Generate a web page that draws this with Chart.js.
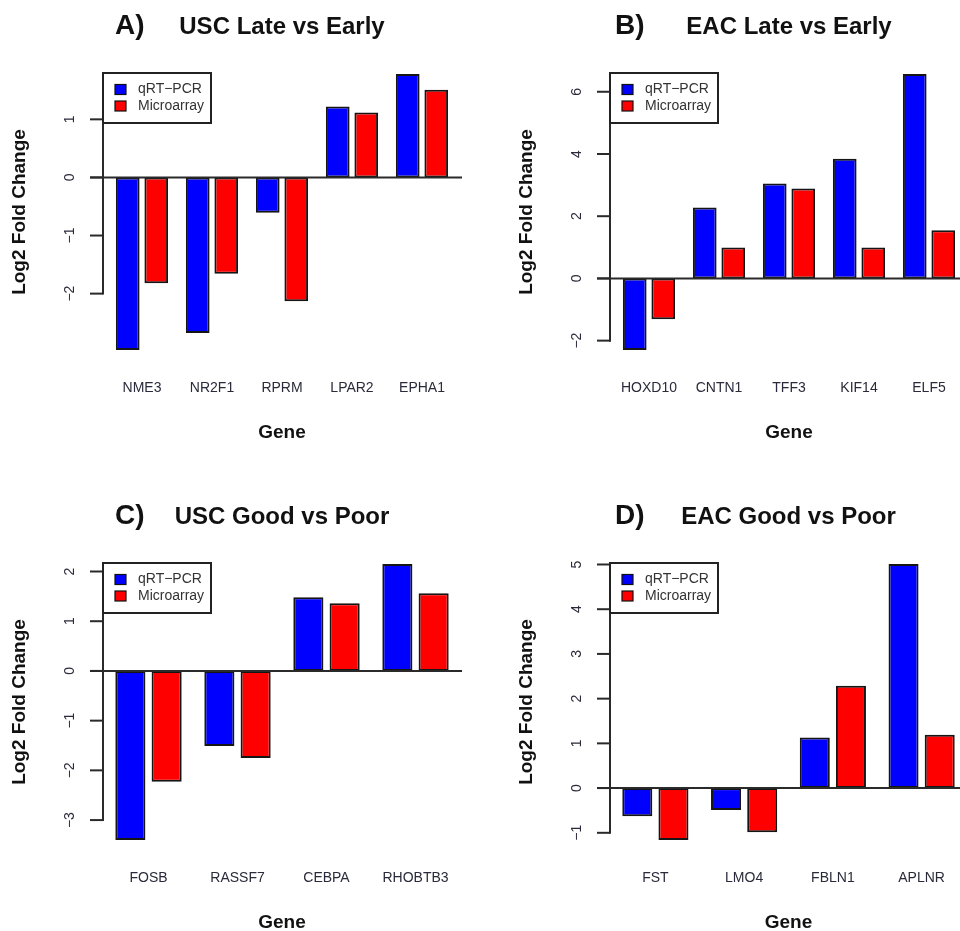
<!DOCTYPE html>
<html><head><meta charset="utf-8">
<script src="https://cdn.jsdelivr.net/npm/chart.js@4.4.0/dist/chart.umd.min.js"></script>
<style>
html,body{margin:0;padding:0;background:#fff;width:960px;height:931px;overflow:hidden;position:relative;}
.panel{position:absolute;}
canvas{display:block;}
</style></head><body>
<div class="panel" style="left:0;top:0"><canvas id="cA" width="480" height="465"></canvas></div>
<div class="panel" style="left:480px;top:0"><canvas id="cB" width="500" height="465"></canvas></div>
<div class="panel" style="left:0;top:490px"><canvas id="cC" width="480" height="465"></canvas></div>
<div class="panel" style="left:480px;top:490px"><canvas id="cD" width="500" height="465"></canvas></div>
<script>
// ---------- data ----------
const seriesNames = ['qRT\u2212PCR', 'Microarray'];
const yAxisTitle = 'Log2 Fold Change';
const xAxisTitle = 'Gene';

const tagA = 'A)', titleA = 'USC Late vs Early';
const genesA = ['NME3', 'NR2F1', 'RPRM', 'LPAR2', 'EPHA1'];
const qpcrA  = [-2.97, -2.68, -0.61, 1.22, 1.78];
const microA = [-1.82, -1.66, -2.13, 1.12, 1.51];
const ticksA = [-2, -1, 0, 1];

const tagB = 'B)', titleB = 'EAC Late vs Early';
const genesB = ['HOXD10', 'CNTN1', 'TFF3', 'KIF14', 'ELF5'];
const qpcrB  = [-2.30, 2.28, 3.05, 3.85, 6.57];
const microB = [-1.31, 0.99, 2.89, 0.99, 1.55];
const ticksB = [-2, 0, 2, 4, 6];

const tagC = 'C)', titleC = 'USC Good vs Poor';
const genesC = ['FOSB', 'RASSF7', 'CEBPA', 'RHOBTB3'];
const qpcrC  = [-3.40, -1.51, 1.48, 2.15];
const microC = [-2.23, -1.75, 1.36, 1.56];
const ticksC = [-3, -2, -1, 0, 1, 2];

const tagD = 'D)', titleD = 'EAC Good vs Poor';
const genesD = ['FST', 'LMO4', 'FBLN1', 'APLNR'];
const qpcrD  = [-0.63, -0.49, 1.13, 5.01];
const microD = [-1.16, -0.99, 2.29, 1.19];
const ticksD = [-1, 0, 1, 2, 3, 4, 5];

// ---------- style / layout ----------
const FONT = "'Liberation Sans', Arial, Helvetica, sans-serif";
Chart.defaults.font.family = FONT;
const BLUE = '#0000FF', RED = '#FF0000', INK = '#222222';

function fmt(v){ return v < 0 ? '\u2212' + Math.abs(v) : String(v); }

const rPlugin = {
  id: 'rStyle',
  afterDatasetsDraw(chart, args, o) {
    const ctx = chart.ctx, ys = chart.scales.y, ca = chart.chartArea;
    const ax = o.axisX;
    ctx.save();
    // zero reference line
    const y0 = ys.getPixelForValue(0);
    ctx.strokeStyle = '#2a2a2a'; ctx.lineWidth = 2;
    ctx.beginPath(); ctx.moveTo(ax - 13, y0); ctx.lineTo(ax + 359, y0); ctx.stroke();
    // y axis line + ticks
    const tk = o.ticks;
    const yTop = ys.getPixelForValue(Math.max(...tk)), yBot = ys.getPixelForValue(Math.min(...tk));
    ctx.beginPath(); ctx.moveTo(ax, yTop - 1); ctx.lineTo(ax, yBot + 1); ctx.stroke();
    ctx.fillStyle = '#2a2a3a'; ctx.font = '14px ' + FONT; ctx.textAlign = 'center'; ctx.textBaseline = 'middle';
    tk.forEach(v => {
      const py = ys.getPixelForValue(v);
      ctx.beginPath(); ctx.moveTo(ax - 13, py); ctx.lineTo(ax, py); ctx.stroke();
      ctx.save(); ctx.translate(ax - 33, py); ctx.rotate(-Math.PI / 2);
      ctx.fillText(fmt(v), 0, 0); ctx.restore();
    });
    // y title
    ctx.save(); ctx.translate(ax - 83, (ca.top + ca.bottom) / 2); ctx.rotate(-Math.PI / 2);
    ctx.font = 'bold 19px ' + FONT; ctx.fillStyle = '#111'; ctx.fillText(yAxisTitle, 0, 0); ctx.restore();
    // main title
    ctx.textBaseline = 'alphabetic';
    ctx.fillStyle = '#111';
    ctx.font = 'bold 24px ' + FONT; ctx.textAlign = 'center';
    ctx.fillText(o.title, (ca.left + ca.right) / 2, 34);
    ctx.font = 'bold 28px ' + FONT; ctx.textAlign = 'left';
    ctx.fillText(o.tag, o.tagX, 34);
    // legend
    const bx = ax, by = ca.top + 10, bw = 108, bh = 50;
    ctx.fillStyle = '#fff'; ctx.fillRect(bx, by, bw, bh);
    ctx.strokeStyle = '#222'; ctx.lineWidth = 2; ctx.strokeRect(bx, by, bw, bh);
    ctx.font = '14px ' + FONT; ctx.textBaseline = 'middle'; ctx.textAlign = 'left';
    chart.data.datasets.forEach((ds, i) => {
      const cy = by + 16.5 + i * 16.5;
      ctx.fillStyle = ds.backgroundColor; ctx.fillRect(bx + 12, cy - 5, 11, 10);
      ctx.lineWidth = 1.2; ctx.strokeStyle = '#111'; ctx.strokeRect(bx + 12, cy - 5, 11, 10);
      ctx.fillStyle = '#333'; ctx.fillText(ds.label, bx + 35, cy);
    });
    ctx.restore();
  }
};

function makeChart(id, tag, title, genes, q, m, ticks, lay) {
  const all = q.concat(m, [0]);
  const lo = Math.min(...all), hi = Math.max(...all), ext = (hi - lo) * 0.04;
  const dsStyle = { borderColor: '#151515', borderWidth: 2, borderSkipped: false,
                    barPercentage: 0.83, categoryPercentage: 0.815 };
  new Chart(document.getElementById(id), {
    type: 'bar',
    data: {
      labels: genes,
      datasets: [
        Object.assign({ label: seriesNames[0], data: q, backgroundColor: BLUE }, dsStyle),
        Object.assign({ label: seriesNames[1], data: m, backgroundColor: RED }, dsStyle)
      ]
    },
    options: {
      responsive: false, animation: false, devicePixelRatio: 1,
      layout: { padding: { left: lay.left, right: lay.right, top: 63, bottom: 0 } },
      plugins: { legend: { display: false }, tooltip: { enabled: false }, title: { display: false },
                 rStyle: { axisX: lay.axisX, tagX: lay.tagX, ticks: ticks, title: title, tag: tag } },
      scales: {
        x: {
          type: 'category', offset: true,
          grid: { display: false, drawTicks: false }, border: { display: false },
          ticks: { color: '#2a2a3a', font: { size: 14 }, padding: 19, maxRotation: 0, autoSkip: false },
          title: { display: true, text: xAxisTitle, color: '#111', font: { size: 19, weight: 'bold' },
                   padding: { top: 0, bottom: 21 } },
          afterFit: s => { s.height = 104; }
        },
        y: { display: false, min: lo - ext, max: hi + ext }
      }
    },
    plugins: [rPlugin]
  });
}

makeChart('cA', tagA, titleA, genesA, qpcrA, microA, ticksA, { left: 107, right: 23, axisX: 103, tagX: 115 });
makeChart('cB', tagB, titleB, genesB, qpcrB, microB, ticksB, { left: 134, right: 16, axisX: 130, tagX: 135 });
makeChart('cC', tagC, titleC, genesC, qpcrC, microC, ticksC, { left: 104, right: 20, axisX: 103, tagX: 115 });
makeChart('cD', tagD, titleD, genesD, qpcrD, microD, ticksD, { left: 131, right: 14, axisX: 130, tagX: 135 });
</script>
</body></html>
